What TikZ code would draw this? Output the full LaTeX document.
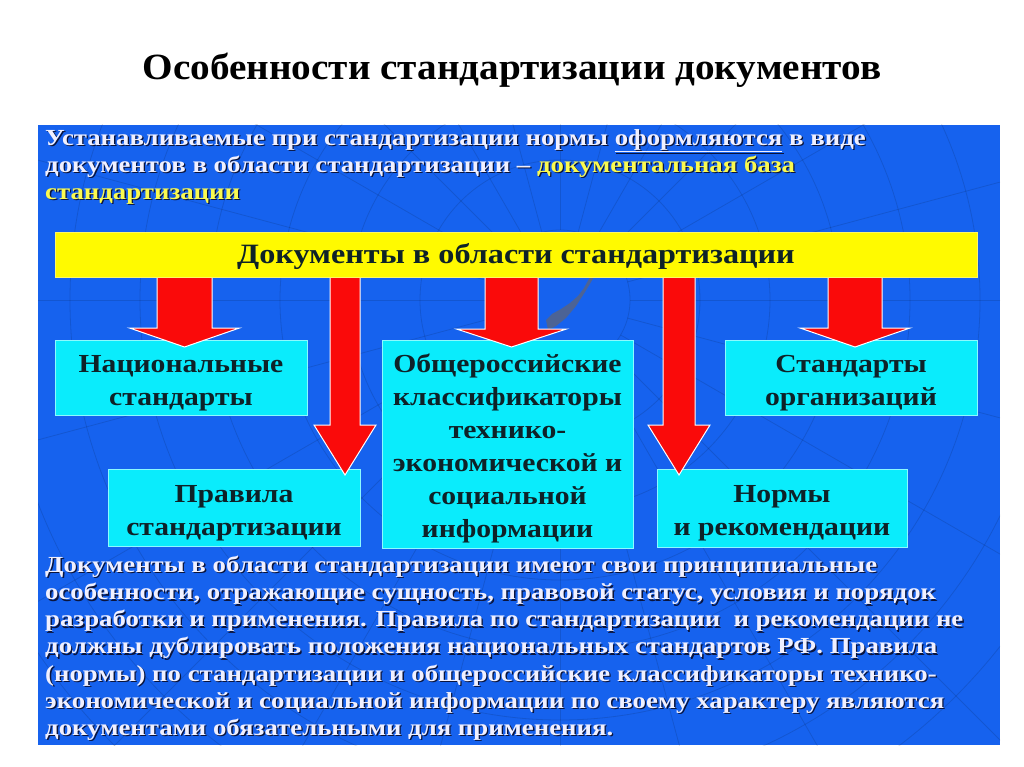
\documentclass[tikz,border=0pt]{standalone}
\usepackage{fontspec}
\setmainfont{Liberation Serif}
\newfontfamily\parafont[FakeStretch=1.165]{Liberation Serif}
\newfontfamily\boxfont[FakeStretch=1.14]{Liberation Serif}
\newfontfamily\barfont[FakeStretch=1.15]{Liberation Serif}
\newfontfamily\titlefont[FakeStretch=1.06]{Liberation Serif}
\definecolor{panelblue}{RGB}{22,98,238}
\definecolor{boxcyan}{RGB}{10,236,252}
\definecolor{boxedge}{RGB}{140,250,255}
\definecolor{baryellow}{RGB}{255,250,0}
\definecolor{darktxt}{RGB}{14,34,40}
\definecolor{paratxt}{RGB}{240,240,255}
\definecolor{yeltxt}{RGB}{250,250,80}
\definecolor{shadowc}{RGB}{10,20,60}
\definecolor{arrred}{RGB}{250,10,10}
\definecolor{blobgray}{RGB}{95,100,120}
\newcommand\shtxt[2]{\leavevmode\rlap{\kern1.3pt\raisebox{-1.3pt}{\color{shadowc}#2}}{\color{#1}#2}}
\newcommand\tstrut{\rule{0pt}{28pt}}
\newcommand\blockarr[6]{% top y, tip y, center x, half shaft, half head, head height
  \filldraw[arrowshape] (#3-#4,#1) -- (#3-#4,#2-#6) -- (#3-#5,#2-#6) -- (#3,#2)
    -- (#3+#5,#2-#6) -- (#3+#4,#2-#6) -- (#3+#4,#1) -- cycle;}
\begin{document}
\begin{tikzpicture}[x=1pt,y=-1pt,
  titlestyle/.style={font=\titlefont\bfseries\fontsize{37}{40}\selectfont, text=black},
  parastyle/.style={font=\parafont\bfseries\fontsize{23}{27.1}\selectfont, align=left, inner sep=0pt, anchor=north west},
  cbox/.style={fill=boxcyan, draw=boxedge, line width=0.8pt, text=darktxt,
    font=\boxfont\bfseries\fontsize{26}{33}\selectfont, align=center, inner sep=2pt},
  barstyle/.style={fill=baryellow, draw=yellow!60!white, line width=0.8pt, text=darktxt,
    font=\barfont\bfseries\fontsize{28}{30}\selectfont, minimum width=922pt, minimum height=45pt, inner sep=0pt},
  arrowshape/.style={fill=arrred, draw=white, line width=1pt, line join=miter},
  webline/.style={draw=black, opacity=0.12, line width=0.8pt}
]
\useasboundingbox (0,0) rectangle (1024,767);
\fill[white] (0,0) rectangle (1024,767);
\node[titlestyle] (title) at (512,70) {Особенности стандартизации документов};
\fill[panelblue] (38,125) rectangle (1000,745);
\begin{scope}
  \clip (38,125) rectangle (1000,745);
  \foreach \r in {70,140,...,770} { \draw[webline] (560,300) circle[radius=\r]; }
  \foreach \a in {0,15,...,345} { \draw[webline] (560,300) ++(\a:70) -- ++(\a:800); }
  \fill[blobgray, opacity=0.75] (590,277) -- (584,288) -- (578,296) -- (570,303) -- (561,309)
    -- (552,314) -- (546,320) -- (548,330) -- (556,326) -- (566,318) -- (576,306) -- (585,292) -- (594,277) -- cycle;
\end{scope}
\node[parastyle] (intro) at (45,129) {%
\shtxt{paratxt}{Устанавливаемые при стандартизации нормы \underline{оформляются} в виде}\\
\shtxt{paratxt}{документов в области стандартизации –} \shtxt{yeltxt}{документальная база}\\
\shtxt{yeltxt}{стандартизации}};
\node[cbox, minimum width=252pt, minimum height=75pt] (nat) at (181,377.5) {\tstrut Национальные\\стандарты};
\node[cbox, minimum width=251pt, minimum height=208pt] (obs) at (507.5,444) {\tstrut Общероссийские\\классификаторы\\технико-\\экономической и\\социальной\\информации};
\node[cbox, minimum width=252pt, minimum height=75pt] (org) at (851,377.5) {\tstrut Стандарты\\организаций};
\node[cbox, minimum width=252pt, minimum height=77pt] (pra) at (234,508) {\tstrut Правила\\стандартизации};
\node[cbox, minimum width=250pt, minimum height=78pt] (nor) at (782,508) {\tstrut Нормы\\и рекомендации};
\blockarr{277}{347}{184.5}{27.5}{55}{19}
\blockarr{277}{475}{345}{15}{31}{50}
\blockarr{277}{347}{511.5}{26.5}{55}{18}
\blockarr{277}{475}{679}{16}{31}{50}
\blockarr{277}{347}{855}{27}{55}{19}
\node[barstyle] (bar) at (516,254.5) {\rule{0pt}{24pt}Документы в области стандартизации};
\node[parastyle] (notes) at (45,556) {%
\shtxt{paratxt}{Документы в области стандартизации имеют свои принципиальные}\\
\shtxt{paratxt}{особенности, отражающие сущность, правовой статус, условия и порядок}\\
\shtxt{paratxt}{разработки и применения. Правила по стандартизации \ и рекомендации не}\\
\shtxt{paratxt}{должны дублировать положения национальных стандартов РФ. Правила}\\
\shtxt{paratxt}{(нормы) по стандартизации и общероссийские классификаторы технико-}\\
\shtxt{paratxt}{экономической и социальной информации по своему характеру являются}\\
\shtxt{paratxt}{документами обязательными для применения.}};
\end{tikzpicture}
\end{document}
